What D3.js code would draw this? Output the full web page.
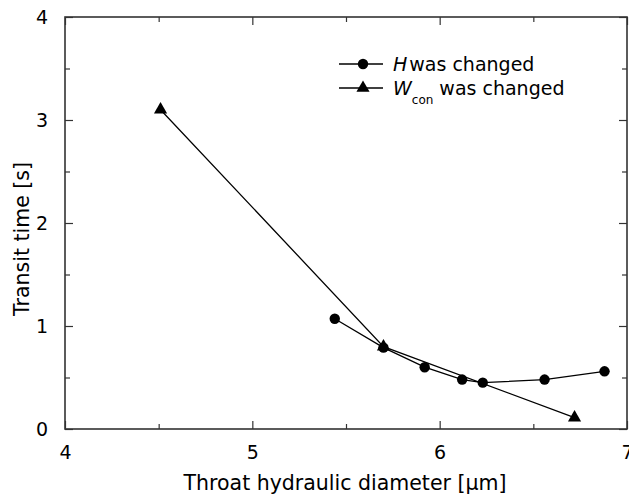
<!DOCTYPE html>
<html>
<head>
<meta charset="utf-8">
<script src="https://cdn.jsdelivr.net/npm/d3@7"></script>
<style>
  body { margin: 0; background: #fff; }
  text { font-family: "DejaVu Sans", sans-serif; fill: #000; }
</style>
</head>
<body>
<script>
// data
const hDiam = [5.44, 5.70, 5.92, 6.12, 6.23, 6.56, 6.88];
const hTime = [1.07, 0.79, 0.60, 0.48, 0.45, 0.48, 0.56];
const wDiam = [4.51, 5.70, 6.72];
const wTime = [3.10, 0.80, 0.11];
const xTicks = [4, 5, 6, 7];
const yTicks = [0, 1, 2, 3, 4];

let margin = {top: 17, right: 2, bottom: 69, left: 65},
    width = 629 - margin.left - margin.right,
    height = 498 - margin.top - margin.bottom;

let svg = d3.select("body").append("svg")
    .attr("width", 629)
    .attr("height", 498);
let g = svg.append("g").attr("transform", "translate(" + margin.left + "," + margin.top + ")");

let x = d3.scaleLinear().domain([4, 7]).range([0, width]);
let y = d3.scaleLinear().domain([0, 4]).range([height, 0]);

// frame ticks, all pointing inward
const minor = d3.range(4.5, 7, 1), minorY = d3.range(0.5, 4, 1);
function axisStyle(sel) {
    sel.select(".domain").remove();
    sel.selectAll("line").attr("stroke", "#333").attr("stroke-width", 1.2);
}
g.append("g").attr("transform", "translate(0," + height + ")")
    .call(d3.axisBottom(x).tickValues(xTicks).tickSize(-8).tickPadding(17).tickFormat(d3.format("d")))
    .call(axisStyle)
    .selectAll("text").attr("font-size", 19).attr("fill", "#000");
g.append("g").attr("transform", "translate(0," + height + ")")
    .call(d3.axisBottom(x).tickValues(minor).tickSize(-5).tickFormat(""))
    .call(axisStyle);
g.append("g")
    .call(d3.axisTop(x).tickValues(xTicks).tickSize(-8).tickFormat(""))
    .call(axisStyle);
g.append("g")
    .call(d3.axisTop(x).tickValues(minor).tickSize(-5).tickFormat(""))
    .call(axisStyle);
g.append("g")
    .call(d3.axisLeft(y).tickValues(yTicks).tickSize(-8).tickPadding(17).tickFormat(d3.format("d")))
    .call(axisStyle)
    .selectAll("text").attr("font-size", 19).attr("fill", "#000");
g.append("g")
    .call(d3.axisLeft(y).tickValues(minorY).tickSize(-5).tickFormat(""))
    .call(axisStyle);
g.append("g").attr("transform", "translate(" + width + ",0)")
    .call(d3.axisRight(y).tickValues(yTicks).tickSize(-8).tickFormat(""))
    .call(axisStyle);
g.append("g").attr("transform", "translate(" + width + ",0)")
    .call(d3.axisRight(y).tickValues(minorY).tickSize(-5).tickFormat(""))
    .call(axisStyle);

g.append("rect")
    .attr("width", width).attr("height", height)
    .attr("fill", "none").attr("stroke", "#333").attr("stroke-width", 1.6);

// series
let line = d3.line().x(d => x(d[0])).y(d => y(d[1]));
let hData = hDiam.map((d, i) => [d, hTime[i]]);
let wData = wDiam.map((d, i) => [d, wTime[i]]);

g.append("path").datum(hData).attr("d", line)
    .attr("fill", "none").attr("stroke", "#000").attr("stroke-width", 1.3);
g.append("path").datum(wData).attr("d", line)
    .attr("fill", "none").attr("stroke", "#000").attr("stroke-width", 1.3);

let circle = d3.symbol().type(d3.symbolCircle).size(85);
let tri = d3.symbol().type(d3.symbolTriangle).size(75);
g.selectAll(".hpt").data(hData).enter().append("path")
    .attr("class", "hpt")
    .attr("d", circle)
    .attr("transform", d => "translate(" + x(d[0]) + "," + y(d[1]) + ")");
g.selectAll(".wpt").data(wData).enter().append("path")
    .attr("class", "wpt")
    .attr("d", tri)
    .attr("transform", d => "translate(" + x(d[0]) + "," + y(d[1]) + ")");

// legend
let leg = svg.append("g").attr("transform", "translate(339,64)");
[0, 1].forEach(function (i) {
    let row = leg.append("g").attr("transform", "translate(0," + i * 24 + ")");
    row.append("line").attr("x1", 0).attr("x2", 44)
        .attr("stroke", "#000").attr("stroke-width", 1.3);
    row.append("path").attr("d", i === 0 ? circle : tri)
        .attr("transform", "translate(24,0)");
});
let t1 = leg.append("text").attr("x", 54).attr("y", 7).attr("font-size", 19);
t1.append("tspan").attr("font-style", "italic").text("H");
t1.append("tspan").attr("dx", 2).text("was changed");
let t2 = leg.append("text").attr("x", 54).attr("y", 31).attr("font-size", 19);
t2.append("tspan").attr("font-style", "italic").text("W");
t2.append("tspan").attr("font-size", 12).attr("dy", 9).text("con");
t2.append("tspan").attr("dx", 6).attr("dy", -9).text("was changed");

// axis titles
svg.append("text")
    .attr("x", 345).attr("y", 490)
    .attr("text-anchor", "middle").attr("font-size", 20.5)
    .text("Throat hydraulic diameter [\u03bcm]");
svg.append("text")
    .attr("transform", "translate(29,239) rotate(-90)")
    .attr("text-anchor", "middle").attr("font-size", 20.5)
    .text("Transit time [s]");
</script>
</body>
</html>
